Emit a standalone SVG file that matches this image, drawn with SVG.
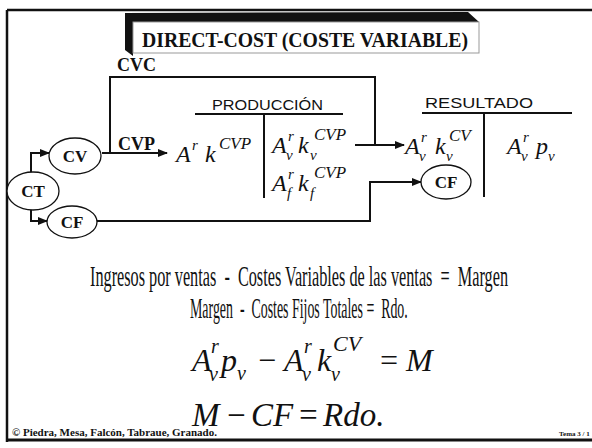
<svg xmlns="http://www.w3.org/2000/svg" width="592" height="448" viewBox="0 0 592 448">
<style>
.ln{stroke:#111;stroke-width:2;fill:none}
.fr{stroke:#111;stroke-width:2.5;fill:none}
.nd{fill:#fff;stroke:#111;stroke-width:1.3}
.nt{font-family:"Liberation Serif",serif;font-weight:bold;font-size:17px;fill:#111;text-anchor:middle}
.bl{font-family:"Liberation Serif",serif;font-weight:bold;fill:#111}
.sa{font-family:"Liberation Sans",Arial,sans-serif;font-size:15px;fill:#111}
.m{font-family:"Liberation Serif",serif;font-style:italic;fill:#111}
.b{font-size:24px}
.s{font-size:15px}
.F{font-size:32px}
.S{font-size:20px}
.tx{font-family:"Liberation Serif",serif;fill:#111;font-size:30px}
</style>
<defs>
<marker id="ah" markerWidth="10" markerHeight="8" refX="9" refY="4" orient="auto" markerUnits="userSpaceOnUse"><path d="M0,0 L10,4 L0,8 z" fill="#111"/></marker>
</defs>
<rect width="592" height="448" fill="#fff"/>
<g id="frame">
<path class="fr" d="M7,10 H592 M7,10 V442"/>
<path d="M7,440 H592" stroke="#111" stroke-width="3"/>
</g>
<g id="title">
<polygon points="125,13 468,12 479,22 133,22 133,56 125,50" fill="#111"/>
<rect x="133" y="22" width="346" height="31" fill="#fff" stroke="#999" stroke-width="1"/>
<text class="bl" x="142" y="47" font-size="22" textLength="326" lengthAdjust="spacingAndGlyphs">DIRECT-COST (COSTE VARIABLE)</text>
</g>
<g id="connectors">
<path class="ln" d="M31,172 V153 H49" marker-end="url(#ah)"/>
<path class="ln" d="M31,210 V221 H47" marker-end="url(#ah)"/>
<path class="ln" d="M102,153 H167" marker-end="url(#ah)"/>
<path class="ln" d="M110,153 V77 H375 V145"/>
<path class="ln" d="M355,145 H404" marker-end="url(#ah)"/>
<path class="ln" d="M97,221 H370 V182 H421" marker-end="url(#ah)"/>
</g>
<g id="labels">
<text class="bl" x="117" y="71" font-size="18">CVC</text>
<text class="bl" x="118" y="150" font-size="18">CVP</text>
</g>
<g id="node-CT"><ellipse class="nd" cx="33" cy="191" rx="26" ry="19"/><text class="nt" x="33" y="197">CT</text></g>
<g id="node-CV"><ellipse class="nd" cx="75" cy="156" rx="26" ry="18"/><text class="nt" x="75" y="162">CV</text></g>
<g id="node-CF"><ellipse class="nd" cx="72" cy="222" rx="25" ry="16"/><text class="nt" x="72" y="228">CF</text></g>
<g id="node-CF2"><ellipse class="nd" cx="446" cy="182" rx="25" ry="17"/><text class="nt" x="446" y="188">CF</text></g>
<g id="produccion">
<text class="sa" x="212" y="110" textLength="111" lengthAdjust="spacingAndGlyphs">PRODUCCIÓN</text>
<path class="ln" d="M195,114 H343 M264,114 V198"/>
<text class="m b" x="176" y="162">A</text><text class="m s" x="192" y="150">r</text>
<text class="m b" x="205" y="162">k</text><text class="m" font-size="17" x="219" y="149">CVP</text>
<text class="m b" x="272" y="153">A</text><text class="m s" x="288" y="141">r</text><text class="m s" x="286" y="160">v</text>
<text class="m b" x="298" y="153">k</text><text class="m s" x="310" y="160">v</text><text class="m" font-size="17" x="314" y="140">CVP</text>
<text class="m b" x="272" y="191">A</text><text class="m s" x="288" y="179">r</text><text class="m s" x="287" y="198">f</text>
<text class="m b" x="298" y="191">k</text><text class="m s" x="310" y="198">f</text><text class="m" font-size="17" x="314" y="178">CVP</text>
</g>
<g id="resultado">
<text class="sa" x="425" y="108" textLength="108" lengthAdjust="spacingAndGlyphs">RESULTADO</text>
<path class="ln" d="M422,113 H572 M484,113 V197"/>
<text class="m b" x="405" y="154">A</text><text class="m s" x="421" y="142">r</text><text class="m s" x="419" y="161">v</text>
<text class="m b" x="435" y="154">k</text><text class="m s" x="446" y="161">v</text><text class="m" font-size="17" x="449" y="141">CV</text>
<text class="m b" x="507" y="154">A</text><text class="m s" x="523" y="142">r</text><text class="m s" x="521" y="161">v</text>
<text class="m b" x="536" y="154">p</text><text class="m s" x="548" y="161">v</text>
</g>
<g id="equations">
<text class="tx" transform="translate(90,286) scale(0.55,1)" x="0" y="0" textLength="760" lengthAdjust="spacingAndGlyphs">Ingresos por ventas&#160; -&#160; Costes Variables de las ventas&#160; =&#160; Margen</text>
<text class="tx" transform="translate(190,318) scale(0.55,1)" x="0" y="0" textLength="396" lengthAdjust="spacingAndGlyphs">Margen&#160; -&#160; Costes Fijos Totales =&#160; Rdo.</text>
<text class="m F" x="192" y="371">A</text><text class="m S" x="211" y="353">r</text><text class="m S" x="209" y="381">v</text>
<text class="m F" x="221" y="371">p</text><text class="m S" x="237" y="380">v</text>
<text class="m F" x="256" y="371">−</text>
<text class="m F" x="284" y="371">A</text><text class="m S" x="304" y="353">r</text><text class="m S" x="302" y="381">v</text>
<text class="m F" x="317" y="371">k</text><text class="m S" x="331" y="381">v</text><text class="m" font-size="22" x="333" y="351">CV</text>
<text class="m F" x="378" y="371">=</text>
<text class="m F" x="406" y="371">M</text>
<text class="m" font-size="33" x="192" y="426">M</text>
<text class="m" font-size="33" x="225" y="426">−</text>
<text class="m" font-size="33" x="251" y="426">CF</text>
<text class="m" font-size="33" x="297" y="426">=</text>
<text class="m" font-size="33" x="323" y="426">Rdo.</text>
</g>
<g id="footer">
<text class="bl" x="12" y="436" font-size="10" textLength="205" lengthAdjust="spacingAndGlyphs">© Piedra, Mesa, Falcón, Tabraue, Granado.</text>
<text class="bl" x="559" y="436" font-size="7">Tema 3 / 1</text>
</g>
</svg>
